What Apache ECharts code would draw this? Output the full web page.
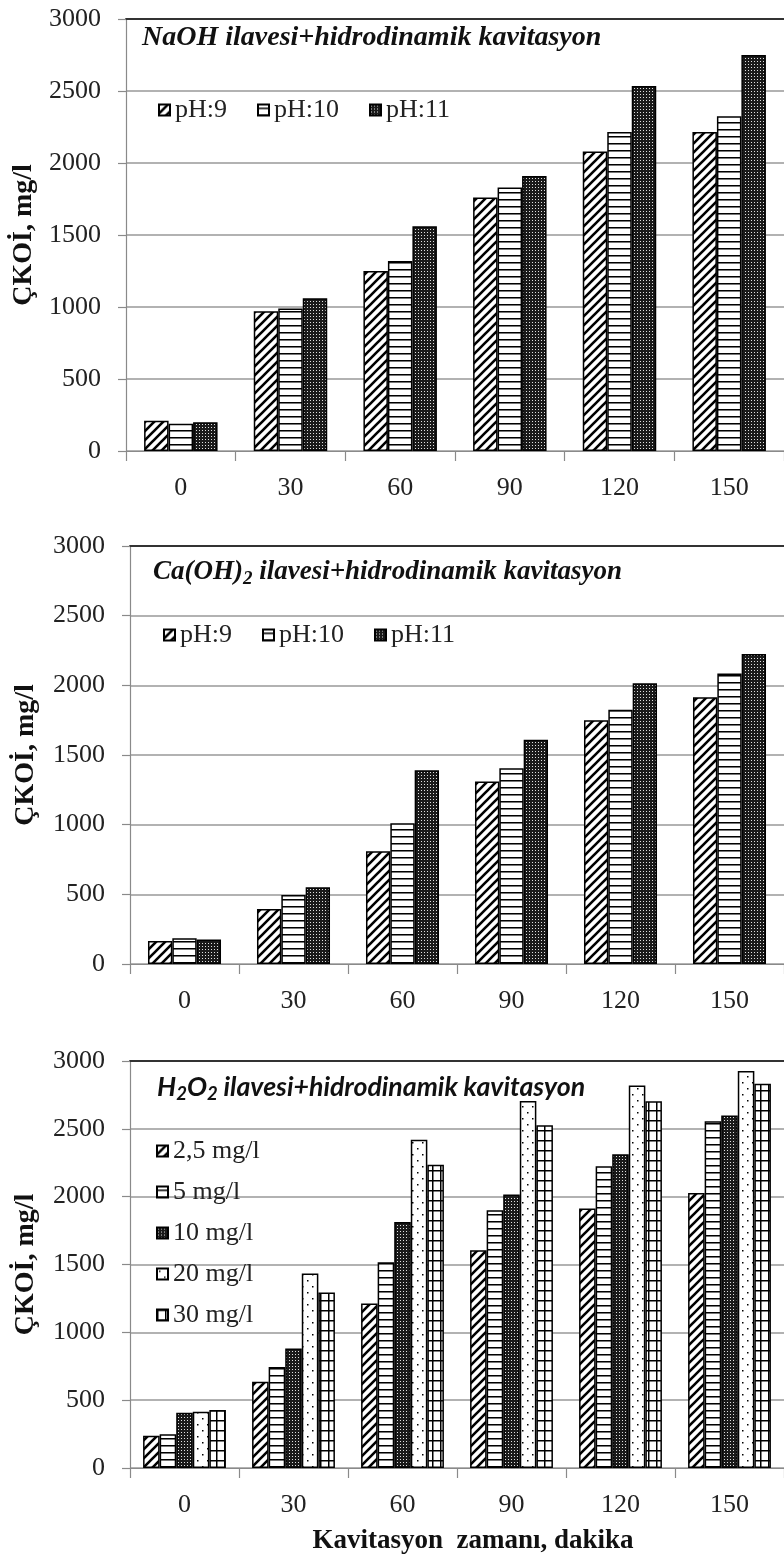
<!DOCTYPE html>
<html><head><meta charset="utf-8">
<script src="https://cdn.jsdelivr.net/npm/echarts@6/dist/echarts.min.js"></script>
<style>html,body{margin:0;padding:0;background:#fff}#c{width:784px;height:1558px}</style>
</head><body><div id="c"></div>
<script>
// ---- data ----
const categories = ['0', '30', '60', '90', '120', '150'];
const yMin = 0, yMax = 3000, yStep = 500;
const phNames = ['pH:9', 'pH:10', 'pH:11'];
const naoh_pH9  = [210, 970, 1250, 1760, 2080, 2215];
const naoh_pH10 = [190, 990, 1320, 1830, 2215, 2325];
const naoh_pH11 = [200, 1060, 1560, 1910, 2535, 2750];
const caoh_pH9  = [165, 395, 810, 1310, 1750, 1915];
const caoh_pH10 = [185, 495, 1010, 1405, 1825, 2085];
const caoh_pH11 = [175, 550, 1390, 1610, 2015, 2225];
const h2o2Names = ['2,5 mg/l', '5 mg/l', '10 mg/l', '20 mg/l', '30 mg/l'];
const h2o2_2_5 = [238, 636, 1213, 1605, 1912, 2027];
const h2o2_5   = [248, 745, 1517, 1900, 2224, 2555];
const h2o2_10  = [407, 881, 1814, 2016, 2312, 2599];
const h2o2_20  = [415, 1434, 2420, 2705, 2820, 2926];
const h2o2_30  = [427, 1294, 2236, 2526, 2703, 2833];
const titleNaOH = 'NaOH ilavesi+hidrodinamik kavitasyon';
const titleCa = '{a|Ca(OH)}{s|2}{a| ilavesi+hidrodinamik kavitasyon}';
const titleH2O2 = '{a|H}{s|2}{a|O}{s|2}{a| ilavesi+hidrodinamik kavitasyon}';
const yName = 'ÇKOİ, mg/l';
const xName = 'Kavitasyon  zamanı, dakika';

// ---- patterns ----
function pat(kind) {
  const c = document.createElement('canvas');
  let g;
  if (kind === 'diag') {
    const s = 9; c.width = c.height = s; g = c.getContext('2d');
    g.fillStyle = '#fff'; g.fillRect(0, 0, s, s);
    g.strokeStyle = '#000'; g.lineWidth = 2.6; g.beginPath();
    g.moveTo(-2, s + 2); g.lineTo(s + 2, -2);
    g.moveTo(-2, 2); g.lineTo(2, -2);
    g.moveTo(s - 2, s + 2); g.lineTo(s + 2, s - 2);
    g.stroke();
  } else if (kind === 'hor') {
    c.width = 7; c.height = 7; g = c.getContext('2d');
    g.fillStyle = '#fff'; g.fillRect(0, 0, 7, 7);
    g.fillStyle = '#000'; g.fillRect(0, 3, 7, 1);
    g.fillStyle = '#777'; g.fillRect(0, 4, 7, 1);
  } else if (kind === 'dense') {
    c.width = 3; c.height = 3; g = c.getContext('2d');
    g.fillStyle = '#1a1a1a'; g.fillRect(0, 0, 3, 3);
    g.fillStyle = '#e0e0e0'; g.fillRect(1, 1, 1, 1);
  } else if (kind === 'dots') {
    c.width = 10; c.height = 12; g = c.getContext('2d');
    g.fillStyle = '#fff'; g.fillRect(0, 0, 10, 12);
    g.fillStyle = '#000'; g.fillRect(2, 2, 1.5, 1.5); g.fillRect(7, 8, 1.5, 1.5);
  } else if (kind === 'grid') {
    c.width = 8; c.height = 10; g = c.getContext('2d');
    g.fillStyle = '#fff'; g.fillRect(0, 0, 8, 10);
    g.fillStyle = '#000'; g.fillRect(0, 0, 8, 1.5); g.fillRect(0, 0, 1.5, 10);
  }
  return { image: c, repeat: 'repeat' };
}
const P = { diag: pat('diag'), hor: pat('hor'), dense: pat('dense'), dots: pat('dots'), grid: pat('grid') };

const serif = 'Liberation Serif';
const grids = [
  { left: 126, top: 19, width: 663, height: 432 },
  { left: 130, top: 546, width: 654, height: 418 },
  { left: 130, top: 1061, width: 656, height: 407 }
];
const nameGaps = [86, 90, 90];

const xAxes = [], yAxes = [];
grids.forEach((gr, i) => {
  xAxes.push({
    type: 'category', gridIndex: i, data: categories, position: 'bottom',
    axisLine: { lineStyle: { color: '#8a8a8a', width: 1.2 } },
    axisTick: { show: true, length: 10, interval: 0, lineStyle: { color: '#8a8a8a', width: 1.2 } },
    axisLabel: { margin: 24, fontSize: 26, fontFamily: serif, color: '#222', interval: 0 },
    splitLine: { show: false }
  });
  yAxes.push({
    type: 'value', gridIndex: i, min: yMin, max: yMax, interval: yStep,
    name: yName, nameLocation: 'middle', nameGap: nameGaps[i], nameRotate: 90,
    nameTextStyle: { fontFamily: serif, fontWeight: 'bold', fontSize: 28, color: '#111' },
    axisLine: { show: true, lineStyle: { color: '#8a8a8a', width: 1.2 } },
    axisTick: { show: true, length: 8, lineStyle: { color: '#8a8a8a', width: 1.2 } },
    axisLabel: { margin: 25, fontSize: 26, fontFamily: serif, color: '#222', formatter: v => String(v) },
    splitLine: { show: true, lineStyle: { color: '#999', width: 1.5 } }
  });
});
// top border lines
grids.forEach((gr, i) => {
  xAxes.push({
    type: 'category', gridIndex: i, data: categories, position: 'top',
    axisLine: { lineStyle: { color: '#333', width: 2 } },
    axisTick: { show: false }, axisLabel: { show: false }, splitLine: { show: false }
  });
});

const barStyle = (p) => ({ color: p, borderColor: '#000', borderWidth: 1.5 });
function bar(name, data, p, gi, gap) {
  return { type: 'bar', name, data, xAxisIndex: gi, yAxisIndex: gi, barGap: '0%', barCategoryGap: gap,
    itemStyle: barStyle(p), emphasis: { disabled: true }, animation: false };
}
const series = [
  bar(phNames[0], naoh_pH9, P.diag, 0, '33%'),
  bar(phNames[1], naoh_pH10, P.hor, 0, '33%'),
  bar(phNames[2], naoh_pH11, P.dense, 0, '33%'),
  bar(phNames[0], caoh_pH9, P.diag, 1, '33%'),
  bar(phNames[1], caoh_pH10, P.hor, 1, '33%'),
  bar(phNames[2], caoh_pH11, P.dense, 1, '33%'),
  bar(h2o2Names[0], h2o2_2_5, P.diag, 2, '24%'),
  bar(h2o2Names[1], h2o2_5, P.hor, 2, '24%'),
  bar(h2o2Names[2], h2o2_10, P.dense, 2, '24%'),
  bar(h2o2Names[3], h2o2_20, P.dots, 2, '24%'),
  bar(h2o2Names[4], h2o2_30, P.grid, 2, '24%')
];

const legendText = { fontFamily: serif, fontSize: 26, color: '#222' };
const titleStyle = { fontFamily: serif, fontStyle: 'italic', fontWeight: 'bold', fontSize: 28, color: '#111' };
const option = {
  backgroundColor: '#fff',
  animation: false,
  title: [
    { text: titleNaOH, left: 142, top: 24, padding: 0, textStyle: titleStyle },
    { text: titleCa, left: 153, top: 555, padding: 0, textStyle: { rich: {
      a: { fontFamily: serif, fontStyle: 'italic', fontWeight: 'bold', fontSize: 27, color: '#111', lineHeight: 34, verticalAlign: 'middle' },
      s: { fontFamily: serif, fontStyle: 'italic', fontWeight: 'bold', fontSize: 19, color: '#111', lineHeight: 34, verticalAlign: 'bottom' } } } },
    { text: titleH2O2, left: 157, top: 1070, padding: 0, textStyle: { rich: {
      a: { fontFamily: 'Lato', fontStyle: 'italic', fontWeight: 'bold', fontSize: 26.7, color: '#111', lineHeight: 34, verticalAlign: 'middle' },
      s: { fontFamily: 'Lato', fontStyle: 'italic', fontWeight: 'bold', fontSize: 18.5, color: '#111', lineHeight: 34, verticalAlign: 'bottom' } } } }
  ],
  legend: [
    { data: phNames, left: 153, top: 92, orient: 'horizontal', icon: 'rect', itemWidth: 11, itemHeight: 11, itemGap: 30, textStyle: legendText, selectedMode: false },
    { data: phNames, left: 158, top: 617, orient: 'horizontal', icon: 'rect', itemWidth: 11, itemHeight: 11, itemGap: 30, textStyle: legendText, selectedMode: false },
    { data: h2o2Names, left: 151, top: 1133, orient: 'vertical', icon: 'rect', itemWidth: 11, itemHeight: 11, itemGap: 15, textStyle: legendText, selectedMode: false }
  ],
  grid: grids.map(g => Object.assign({ containLabel: false }, g)),
  xAxis: xAxes,
  yAxis: yAxes,
  series: series,
  graphic: [
    { type: 'text', x: 473, y: 1541, style: { text: xName, fontFamily: serif, fontWeight: 'bold', fontSize: 27, fill: '#111', textAlign: 'center', textVerticalAlign: 'middle' } }
  ]
};
const chart = echarts.init(document.getElementById('c'), null, { renderer: 'canvas' });
chart.setOption(option);
</script>
</body></html>
